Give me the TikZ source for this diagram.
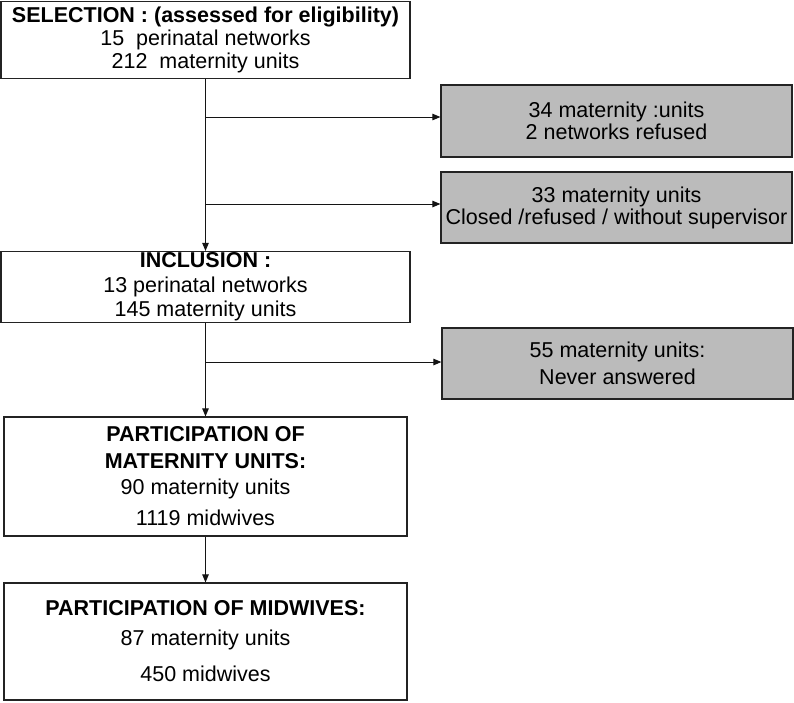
\documentclass[tikz,border=0pt]{standalone}
\usepackage{fontspec}
\setmainfont{Liberation Sans}
\usepackage{tikz}
\usetikzlibrary{
  positioning,
  arrows.meta,
  calc
}
\definecolor{BoxBorder}{RGB}{35,35,35}
\definecolor{ExclFill}{RGB}{187,187,187}
\definecolor{FlowColor}{RGB}{20,20,20}
\tikzset{
  % Stage of the study (white box)
  stagebox/.style={
    draw=BoxBorder,
    fill=white,
    line width=1.2pt,
    inner sep=1pt,
    align=center,
    font=\fontsize{21.5}{23}\selectfont
  },
  % Excluded units (grey box)
  exclbox/.style={
    stagebox,
    fill=ExclFill,
    font=\fontsize{21.5}{22}\selectfont
  },
  % Flow arrow
  flow/.style={
    draw=FlowColor,
    line width=1pt,
    -{Triangle[length=8pt,width=6.5pt]}
  }
}

\begin{document}
\begin{tikzpicture}[x=1pt,y=-1pt]
  \useasboundingbox (0,0) rectangle (794,702);

  \node[stagebox, minimum width=409pt, minimum height=77pt] (sel) at (205.5,40)
    {\textbf{SELECTION : (assessed for eligibility)}\\15 \ perinatal networks\\212 \ maternity units};
  \node[exclbox, minimum width=351pt, minimum height=72pt] (excl1) at (616.5,121)
    {34 maternity :units\\2 networks refused};
  \node[exclbox, minimum width=351pt, minimum height=71pt] (excl2) at (616.5,207.5)
    {33 maternity units\\Closed /refused / without supervisor};
  \node[stagebox, minimum width=409pt, minimum height=71pt, font=\fontsize{21.5}{24.5}\selectfont] (incl) at (205.5,287)
    {\textbf{INCLUSION :}\\13 perinatal networks\\145 maternity units};
  \node[exclbox, minimum width=351pt, minimum height=71pt, font=\fontsize{21.5}{27}\selectfont] (excl3) at (617.5,363.5)
    {55 maternity units:\\Never answered};
  \node[stagebox, minimum width=403pt, minimum height=119pt, font=\fontsize{21.5}{26.5}\selectfont] (partmat) at (205.5,476.5)
    {\textbf{PARTICIPATION OF}\\\textbf{MATERNITY UNITS:}\\90 maternity units\\[4.5pt]1119 midwives};
  \node[stagebox, minimum width=403pt, minimum height=117pt, font=\fontsize{21.5}{30}\selectfont] (partmid) at (205.5,641.5)
    {\textbf{PARTICIPATION OF MIDWIVES:}\\87 maternity units\\[6pt]450 midwives};

  \coordinate (cut1) at (205.5,117);
  \coordinate (cut2) at (205.5,204);
  \coordinate (cut3) at (205.5,362);

  \draw[flow] (sel) -- (incl);
  \draw[flow] (cut1) -- (cut1 -| excl1.west);
  \draw[flow] (cut2) -- (cut2 -| excl2.west);
  \draw[flow] (incl) -- (partmat);
  \draw[flow] (cut3) -- (cut3 -| excl3.west);
  \draw[flow] (partmat) -- (partmid);
\end{tikzpicture}
\end{document}
